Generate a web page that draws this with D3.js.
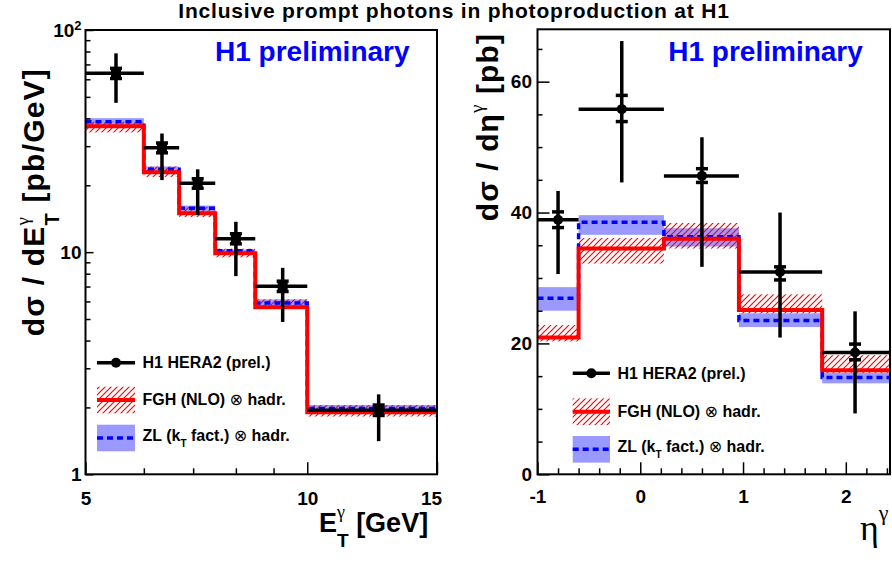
<!DOCTYPE html>
<html>
<head>
<meta charset="utf-8">
<script src="https://cdn.jsdelivr.net/npm/d3@7"></script>
<style>
  body { margin: 0; background: #fff; }
  svg { display: block; font-family: "Liberation Sans", Arial, Helvetica, sans-serif; font-weight: bold; }
</style>
</head>
<body>
<svg id="chart" width="892" height="562"></svg>
<script>
const RED = '#ff0000';
const BLUE = '#0000ff';
const BAND = '#9999ff';

// E_T distribution (left)
const etEdges = [5, 6, 6.7, 7.5, 8.5, 10, 15];
const etPoint = [5.5, 6.35, 7.1, 8.0, 9.26, 12.5];
const etData = [63.8, 29.5, 20.4, 11.5, 7.03, 1.94];
const etTotLo = [47, 21.1, 14.7, 7.8, 4.85, 1.41];
const etTotHi = [78.5, 34.2, 23.6, 13.7, 8.5, 2.29];
const etStatLo = [60.5, 28.0, 19.4, 10.9, 6.65, 1.84];
const etStatHi = [67.2, 31.0, 21.4, 12.1, 7.4, 2.05];
const etFgh = [36.9, 22.9, 14.95, 9.88, 5.65, 1.9];
const etFghLo = [34.6, 21.8, 14.4, 9.48, 5.58, 1.82];
const etFghHi = [38.6, 24.3, 16.0, 10.37, 6.13, 2.05];
const etZl = [38.6, 23.6, 15.75, 10.14, 5.91, 1.98];
const etZlLo = [37.2, 23.0, 15.2, 9.88, 5.72, 1.93];
const etZlHi = [40.1, 24.3, 16.2, 10.27, 6.13, 2.05];

// eta distribution (right)
const etaEdges = [-1, -0.6, 0.23, 0.96, 1.77, 2.43];
const etaPoint = [-0.8, -0.18, 0.6, 1.36, 2.09];
const etaData = [38.9, 55.8, 45.6, 30.9, 18.6];
const etaTotLo = [30.6, 44.6, 31.7, 20.9, 9.3];
const etaTotHi = [43.3, 66.2, 51.5, 40.0, 24.9];
const etaStatLo = [37.7, 53.9, 44.6, 29.7, 17.5];
const etaStatHi = [40.1, 57.9, 46.7, 31.7, 19.9];
const etaFgh = [20.9, 34.5, 36.0, 25.1, 15.9];
const etaFghLo = [20.3, 32.2, 34.5, 24.6, 15.5];
const etaFghHi = [22.8, 36.1, 38.4, 27.5, 18.2];
const etaZl = [26.9, 38.5, 36.3, 23.5, 14.8];
const etaZlLo = [25.0, 36.6, 34.8, 22.5, 13.9];
const etaZlHi = [28.6, 39.6, 37.6, 24.6, 15.5];

// ticks
const etMajor = [5, 10, 15];
const etMinor = [6, 7, 8, 9];
const logMajor = [1, 10, 100];
const logMinor = [2, 3, 4, 5, 6, 7, 8, 9, 20, 30, 40, 50, 60, 70, 80, 90];
const etaMajor = [-1, 0, 1, 2];
const etaMinor = d3.range(-4, 13).filter(k => k % 5 !== 0).map(k => k / 5);
const yRMajor = [0, 20, 40, 60];
const yRMinor = [5, 10, 15, 25, 30, 35, 45, 50, 55, 65];

const svg = d3.select('#chart');

const defs = svg.append('defs');
defs.append('pattern')
  .attr('id', 'hatch')
  .attr('patternUnits', 'userSpaceOnUse')
  .attr('width', 6)
  .attr('height', 6)
  .append('path')
  .attr('d', 'M-1,1 l2,-2 M0,6 l6,-6 M5,7 l2,-2')
  .attr('stroke', RED)
  .attr('stroke-width', 1.2);

// title
svg.append('text')
  .attr('x', 454)
  .attr('y', 18)
  .attr('text-anchor', 'middle')
  .attr('font-size', 21)
  .attr('letter-spacing', 0.8)
  .text('Inclusive prompt photons in photoproduction at H1');

function addParts(text, parts) {
  let back = 0;
  parts.forEach(p => {
    const ts = text.append('tspan').text(p.t);
    if (p.size) ts.attr('font-size', p.size);
    if (p.dy) ts.attr('dy', p.dy);
    if (p.family) ts.attr('font-family', p.family);
    if (p.weight) ts.attr('font-weight', p.weight);
    if (p.stack) ts.attr('dx', -back);
    back = ts.node().getComputedTextLength();
  });
}

function stepPath(edges, vals, x, y) {
  let d = `M${x(edges[0])},${y(vals[0])}`;
  vals.forEach((v, i) => {
    if (i > 0) d += `V${y(v)}`;
    d += `H${x(edges[i + 1])}`;
  });
  return d;
}

function drawPanel(opt) {
  const { x, y, edges } = opt;
  const g = svg.append('g');

  // ZL band
  g.selectAll('.zlband')
    .data(opt.zlLo)
    .enter()
    .append('rect')
    .attr('x', (d, i) => x(edges[i]))
    .attr('width', (d, i) => x(edges[i + 1]) - x(edges[i]))
    .attr('y', (d, i) => y(opt.zlHi[i]))
    .attr('height', (d, i) => y(d) - y(opt.zlHi[i]))
    .attr('fill', BAND);

  // FGH hatch band
  g.selectAll('.fghband')
    .data(opt.fghLo)
    .enter()
    .append('rect')
    .attr('x', (d, i) => x(edges[i]))
    .attr('width', (d, i) => x(edges[i + 1]) - x(edges[i]))
    .attr('y', (d, i) => y(opt.fghHi[i]))
    .attr('height', (d, i) => y(d) - y(opt.fghHi[i]))
    .attr('fill', 'url(#hatch)');

  g.append('path')
    .attr('d', stepPath(edges, opt.zl, x, y))
    .attr('fill', 'none')
    .attr('stroke', BLUE)
    .attr('stroke-width', 3.5)
    .attr('stroke-dasharray', '6 4');

  g.append('path')
    .attr('d', stepPath(edges, opt.fgh, x, y))
    .attr('fill', 'none')
    .attr('stroke', RED)
    .attr('stroke-width', 4);

  // data points
  const pts = opt.data.map((v, i) => ({
    x: opt.px[i], v, lo: opt.totLo[i], hi: opt.totHi[i],
    slo: opt.statLo[i], shi: opt.statHi[i], e0: edges[i], e1: edges[i + 1]
  }));

  const dg = g.append('g').attr('stroke', '#000').attr('stroke-width', 3.5);
  dg.selectAll('.herr')
    .data(pts)
    .enter()
    .append('line')
    .attr('x1', d => x(d.e0))
    .attr('x2', d => x(d.e1))
    .attr('y1', d => y(d.v))
    .attr('y2', d => y(d.v));
  dg.selectAll('.verr')
    .data(pts)
    .enter()
    .append('line')
    .attr('x1', d => x(d.x))
    .attr('x2', d => x(d.x))
    .attr('y1', d => y(d.hi))
    .attr('y2', d => y(d.lo));
  ['slo', 'shi'].forEach(k => {
    dg.selectAll('.cap' + k)
      .data(pts)
      .enter()
      .append('line')
      .attr('x1', d => x(d.x) - 6)
      .attr('x2', d => x(d.x) + 6)
      .attr('y1', d => y(d[k]))
      .attr('y2', d => y(d[k]));
  });
  if (opt.square) {
    g.selectAll('.mk')
      .data(pts)
      .enter()
      .append('rect')
      .attr('x', d => x(d.x) - 5)
      .attr('y', d => y(d.v) - 5)
      .attr('width', 10)
      .attr('height', 10)
      .attr('fill', '#000');
  } else {
    g.selectAll('.mk')
      .data(pts)
      .enter()
      .append('circle')
      .attr('cx', d => x(d.x))
      .attr('cy', d => y(d.v))
      .attr('r', 5)
      .attr('fill', '#000');
  }

  // axes
  const [x0, x1] = x.range();
  const [yb, yt] = y.range();
  const tidy = a => a.call(s => s.select('.domain').remove())
    .call(s => s.selectAll('line').attr('stroke-width', 1.5))
    .attr('font-size', 19).attr('font-family', null).attr('font-weight', 'bold');

  svg.append('g')
    .attr('transform', `translate(0,${yb})`)
    .call(d3.axisBottom(x).tickValues(opt.xMinor).tickSize(-6).tickFormat(''))
    .call(tidy);
  const xa = svg.append('g')
    .attr('transform', `translate(0,${yb})`)
    .call(d3.axisBottom(x).tickValues(opt.xMajor).tickSize(-12).tickPadding(opt.xPad).tickFormat(d => d))
    .call(tidy);
  // last label sits a little inside the frame, as in the original
  xa.selectAll('.tick text').filter(d => d === 15).attr('dx', -6);
  svg.append('g')
    .attr('transform', `translate(${x0},0)`)
    .call(d3.axisLeft(y).tickValues(opt.yMinor).tickSize(-opt.yMinorLen).tickFormat(''))
    .call(tidy);
  const ya = svg.append('g')
    .attr('transform', `translate(${x0},0)`)
    .call(d3.axisLeft(y).tickValues(opt.yMajor).tickSize(-opt.yMajorLen).tickPadding(opt.yPad)
      .tickFormat(d => (d === 100 ? '' : d)))
    .call(tidy);
  ya.selectAll('.tick text')
    .filter(d => d === 100)
    .call(t => {
      t.append('tspan').text('10');
      t.append('tspan').text('2').attr('font-size', 13).attr('dy', -7);
    });

  svg.append('rect')
    .attr('x', x0)
    .attr('y', yt)
    .attr('width', x1 - x0)
    .attr('height', yb - yt)
    .attr('fill', 'none')
    .attr('stroke', '#000')
    .attr('stroke-width', 2);

  svg.append('text')
    .attr('x', opt.prelimX)
    .attr('y', 60.5)
    .attr('font-size', 28)
    .attr('fill', BLUE)
    .text('H1 preliminary');

  // legend
  const L = opt.legend;
  const lg = svg.append('g');
  const xm = (L.x0 + L.x1) / 2;
  lg.append('line')
    .attr('x1', L.x0).attr('x2', L.x1)
    .attr('y1', L.y[0]).attr('y2', L.y[0])
    .attr('stroke', '#000').attr('stroke-width', 3.5);
  lg.append('circle').attr('cx', xm).attr('cy', L.y[0]).attr('r', 5).attr('fill', '#000');
  lg.append('rect')
    .attr('x', L.x0).attr('y', L.y[1] - 13.3)
    .attr('width', L.x1 - L.x0).attr('height', 26.6)
    .attr('fill', 'url(#hatch)');
  lg.append('line')
    .attr('x1', L.x0).attr('x2', L.x1)
    .attr('y1', L.y[1]).attr('y2', L.y[1])
    .attr('stroke', RED).attr('stroke-width', 4);
  lg.append('rect')
    .attr('x', L.x0).attr('y', L.y[2] - 13.3)
    .attr('width', L.x1 - L.x0).attr('height', 26.6)
    .attr('fill', BAND);
  lg.append('line')
    .attr('x1', L.x0).attr('x2', L.x1)
    .attr('y1', L.y[2]).attr('y2', L.y[2])
    .attr('stroke', BLUE).attr('stroke-width', 3.5)
    .attr('stroke-dasharray', '6 4');

  const tx = L.x1 + 7.5;
  lg.append('text').attr('x', tx).attr('y', L.y[0] + 5.6).attr('font-size', 16).text('H1 HERA2 (prel.)');
  lg.append('text').attr('x', tx).attr('y', L.y[1] + 5.2).attr('font-size', 16)
    .call(t => addParts(t, [
      { t: 'FGH (NLO) ' },
      { t: '⊗', weight: 'normal', family: 'DejaVu Sans' },
      { t: ' hadr.' }
    ]));
  lg.append('text').attr('x', tx).attr('y', L.y[2] + 3).attr('font-size', 16)
    .call(t => addParts(t, [
      { t: 'ZL (k' },
      { t: 'T', size: 10, dy: 6 },
      { t: ' fact.) ', dy: -6 },
      { t: '⊗', weight: 'normal', family: 'DejaVu Sans' },
      { t: ' hadr.' }
    ]));
}

const xL = d3.scaleLog().domain([5, 15]).range([85.5, 437]);
const yL = d3.scaleLog().domain([1, 100]).range([474.3, 30]);
const xR = d3.scaleLinear().domain([-1, 2.43]).range([537.5, 890]);
const yR = d3.scaleLinear().domain([0, 68]).range([474.3, 29.3]);

drawPanel({
  x: xL, y: yL, edges: etEdges, px: etPoint, data: etData,
  totLo: etTotLo, totHi: etTotHi, statLo: etStatLo, statHi: etStatHi,
  fgh: etFgh, fghLo: etFghLo, fghHi: etFghHi,
  zl: etZl, zlLo: etZlLo, zlHi: etZlHi,
  square: true,
  xMajor: etMajor, xMinor: etMinor, xPad: 17,
  yMajor: logMajor, yMinor: logMinor, yMajorLen: 8, yMinorLen: 5, yPad: 4,
  prelimX: 215,
  legend: { x0: 97, x1: 135, y: [362.7, 400, 438] }
});

drawPanel({
  x: xR, y: yR, edges: etaEdges, px: etaPoint, data: etaData,
  totLo: etaTotLo, totHi: etaTotHi, statLo: etaStatLo, statHi: etaStatHi,
  fgh: etaFgh, fghLo: etaFghLo, fghHi: etaFghHi,
  zl: etaZl, zlLo: etaZlLo, zlHi: etaZlHi,
  square: false,
  xMajor: etaMajor, xMinor: etaMinor, xPad: 15.5,
  yMajor: yRMajor, yMinor: yRMinor, yMajorLen: 12, yMinorLen: 5, yPad: 5.5,
  prelimX: 668.3,
  legend: { x0: 572.7, x1: 610, y: [373.3, 411.7, 449.3] }
});

// axis titles
svg.append('text')
  .attr('x', 319)
  .attr('y', 531.7)
  .attr('font-size', 27)
  .call(t => addParts(t, [
    { t: 'E' },
    { t: 'γ', size: 18, dy: -14, family: 'Liberation Serif', weight: 'normal' },
    { t: 'T', size: 19, dy: 29, stack: true },
    { t: ' [GeV]', dy: -15 }
  ]));

svg.append('text')
  .attr('x', 860)
  .attr('y', 540)
  .attr('font-size', 36)
  .attr('font-family', 'Liberation Serif')
  .attr('font-weight', 'normal')
  .call(t => addParts(t, [
    { t: 'η' },
    { t: 'γ', size: 22, dy: -20 }
  ]));

svg.append('text')
  .attr('transform', 'translate(44,68) rotate(-90)')
  .attr('text-anchor', 'end')
  .attr('font-size', 30)
  .attr('letter-spacing', 1.2)
  .call(t => addParts(t, [
    { t: 'dσ / dE' },
    { t: 'γ', size: 19, dy: -15, family: 'Liberation Serif', weight: 'normal' },
    { t: 'T', size: 20, dy: 30, stack: true },
    { t: ' [pb/GeV]', dy: -15 }
  ]));

svg.append('text')
  .attr('transform', 'translate(498,33) rotate(-90)')
  .attr('text-anchor', 'end')
  .attr('font-size', 30)
  .attr('letter-spacing', 1.1)
  .call(t => addParts(t, [
    { t: 'dσ / dη' },
    { t: 'γ', size: 19, dy: -15, family: 'Liberation Serif', weight: 'normal' },
    { t: ' [pb]', dy: 15 }
  ]));
</script>
</body>
</html>
